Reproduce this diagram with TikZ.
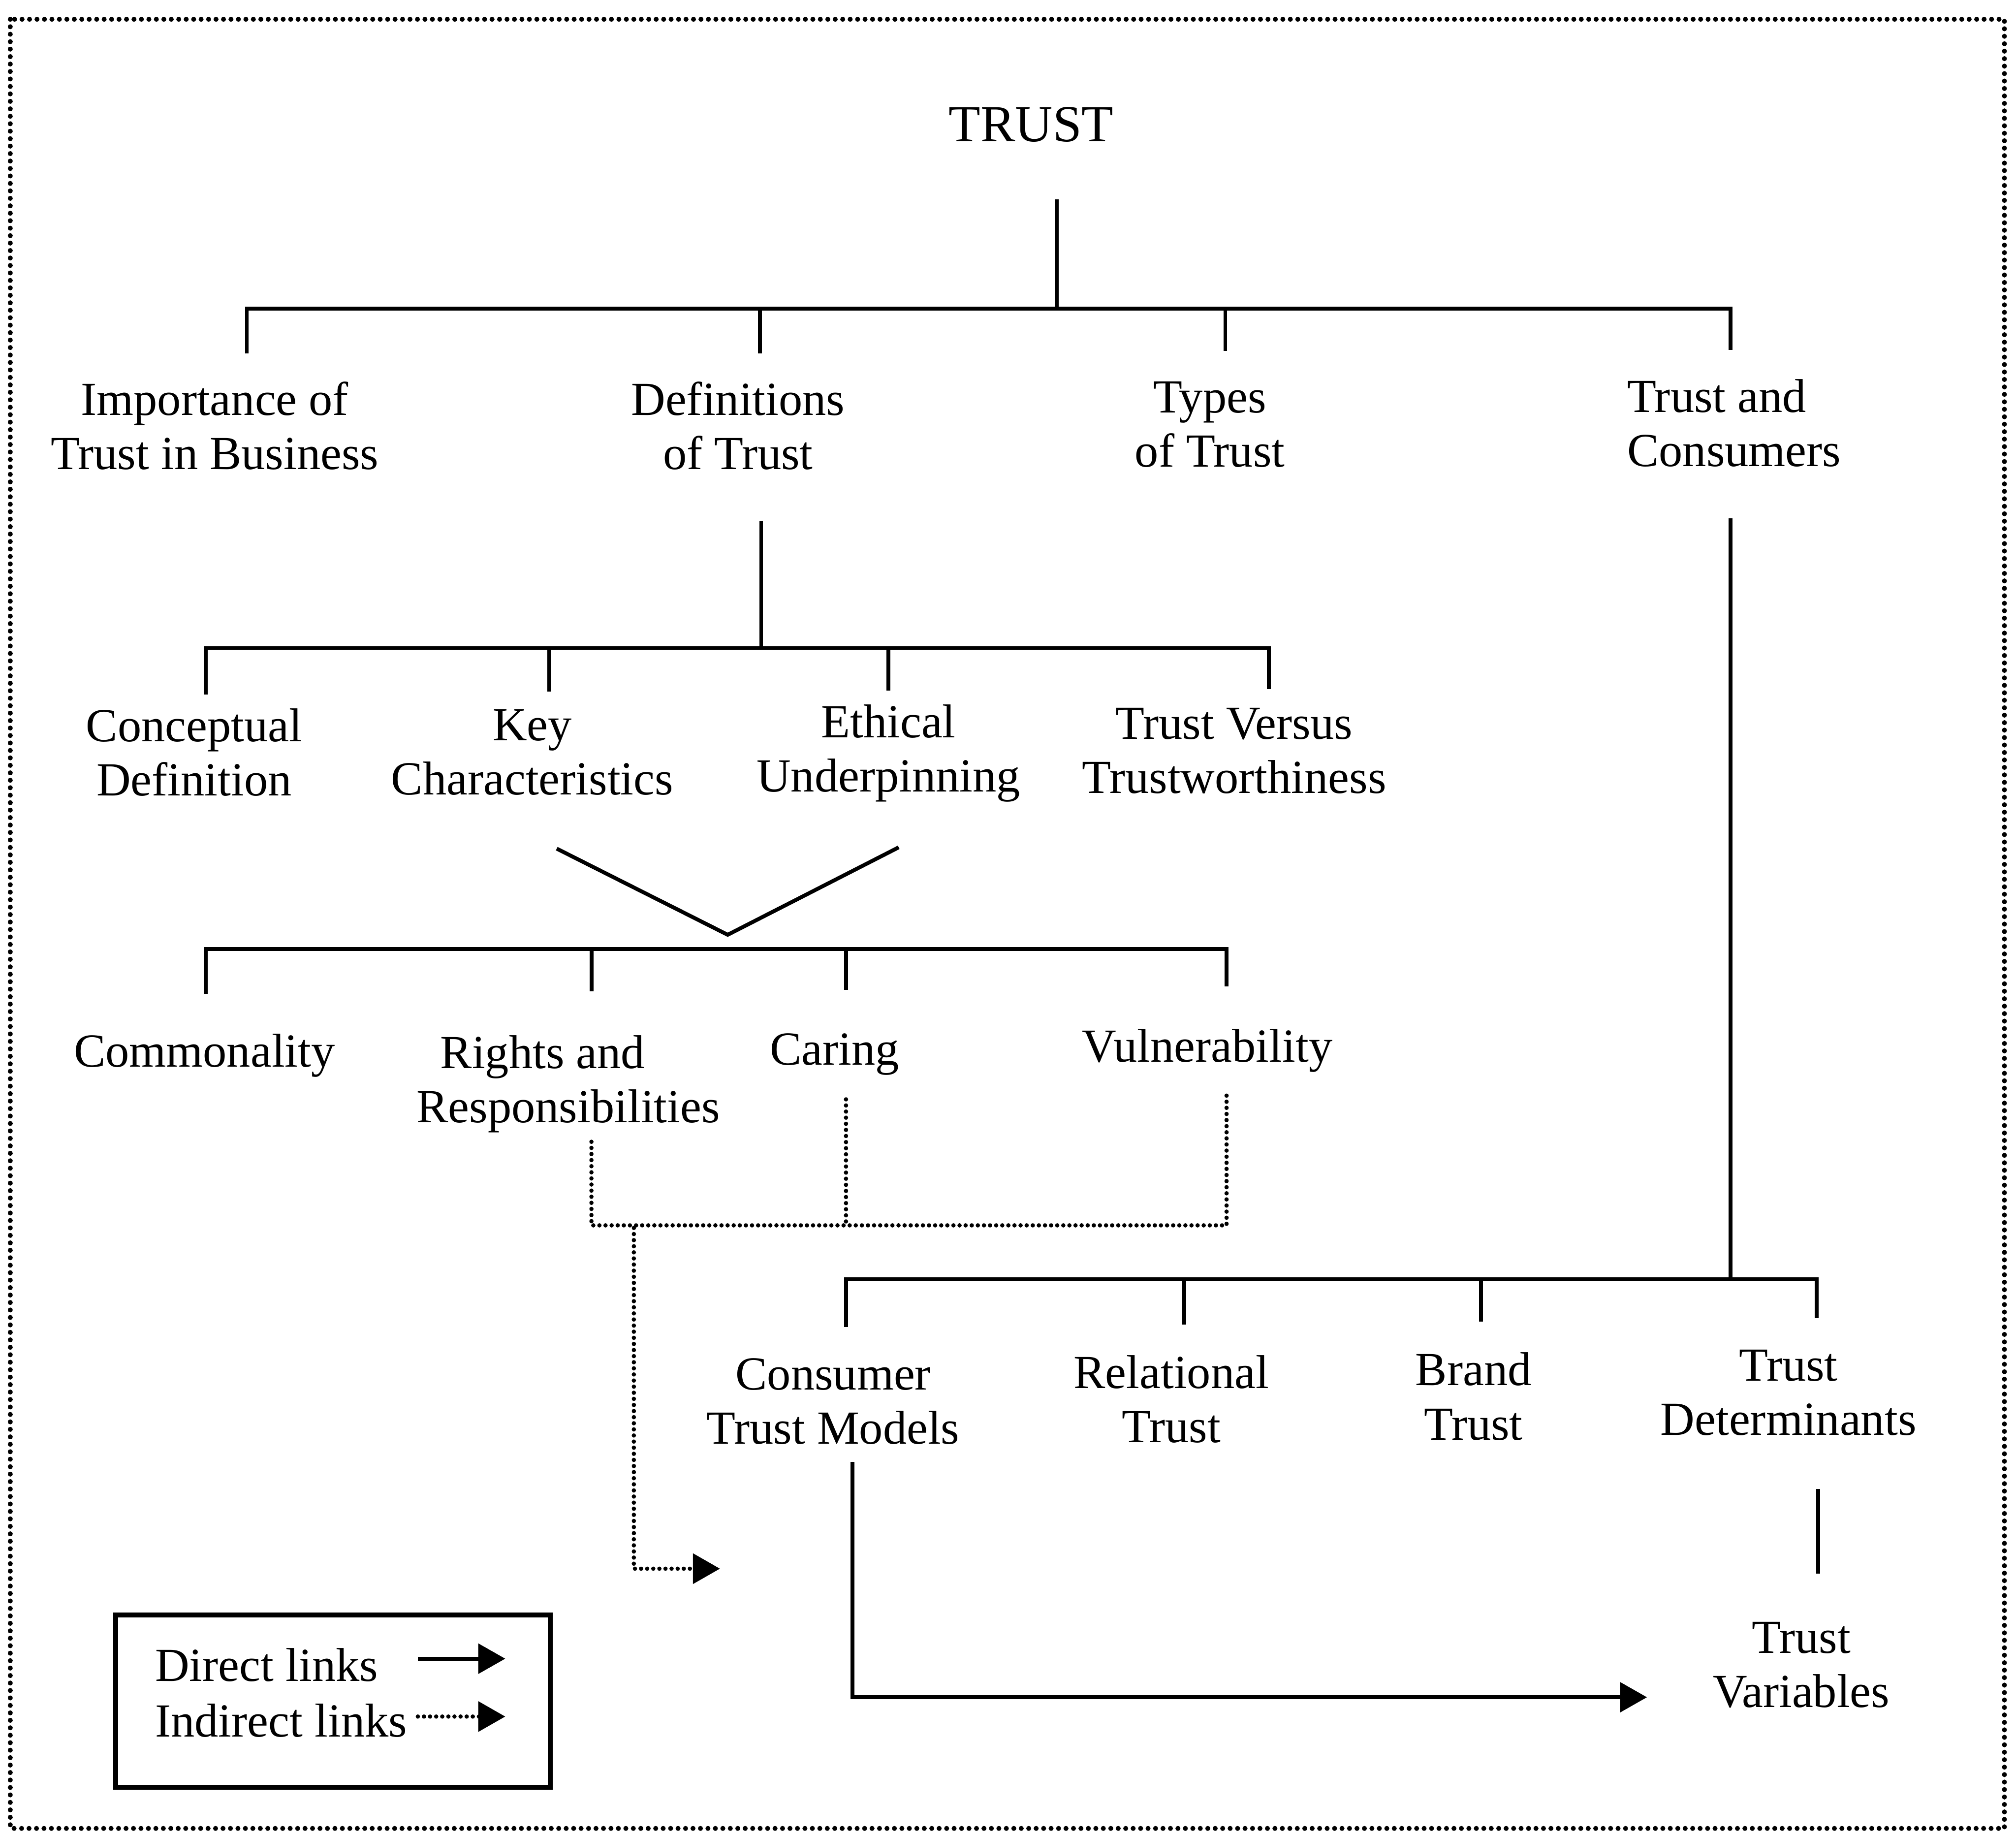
\documentclass[tikz,border=0pt]{standalone}
\usepackage{fontspec}
\setmainfont{Liberation Serif}
\usetikzlibrary{arrows.meta}
\begin{document}
\begin{tikzpicture}[x=0.01cm,y=-0.01cm,
 lbl/.style={align=center,font=\fontsize{10.5}{12}\selectfont,inner sep=0pt},
 conn/.style={line width=0.85pt},
 indirect/.style={line width=0.95pt,dash pattern=on 0pt off 1.35pt,line cap=round},
 tip/.style={-{Triangle[length=2.1mm,width=2.3mm]}},
 frame/.style={line width=1.1pt,dash pattern=on 0pt off 1.65pt,line cap=round}]
\useasboundingbox (0,0) rectangle (1568,1427);
\draw[frame] (8,15) rectangle (1559,1422);

% nodes
\node[lbl,font=\fontsize{11.5}{13}\selectfont] (trust) at (802,97) {TRUST};
\node[lbl] (imp) at (167,331) {Importance of\\Trust in Business};
\node[lbl] (def) at (574,331) {Definitions\\of Trust};
\node[lbl] (types) at (941,330) {Types\\of Trust};
\node[lbl,align=left,anchor=west] (cons) at (1265,329) {Trust and\\Consumers};
\node[lbl] (concept) at (151,585) {Conceptual\\Definition};
\node[lbl] (key) at (414,585) {Key\\Characteristics};
\node[lbl] (eth) at (691,586) {Ethical\\Underpinning};
\node[lbl] (tvt) at (960,584) {Trust Versus\\Trustworthiness};
\node[lbl] (comm) at (159,821) {Commonality};
\node[lbl] (rights) at (442,843) {Rights and\hspace*{0.4cm}\\Responsibilities};
\node[lbl] (caring) at (649,820) {Caring};
\node[lbl] (vuln) at (939,817) {Vulnerability};
\node[lbl] (ctm) at (648,1090) {Consumer\\Trust Models};
\node[lbl] (rel) at (911,1088) {Relational\\Trust};
\node[lbl] (brand) at (1146,1086) {Brand\\Trust};
\node[lbl] (tdet) at (1391,1083) {Trust\\Determinants};
\node[lbl] (tvar) at (1401,1295) {Trust\\Variables};

% legend
\draw[line width=1.1pt] (90,1256) rectangle (428,1390);
\node[lbl,anchor=west] (dl) at (120,1295) {Direct links};
\node[lbl,anchor=west] (il) at (120,1338) {Indirect links};
\coordinate (dla) at (325,1290);
\coordinate (dlb) at (393,1290);
\coordinate (ila) at (325,1335);
\coordinate (ilb) at (393,1335);
\draw[conn,tip] (dla) -- (dlb);
\draw[indirect,tip] (ila) -- (ilb);

% level 1
\draw[conn] (822,155) -- (822,240);
\draw[conn] (192,275) -- (192,240) -- (1346,240) -- (1346,272);
\draw[conn] (591,240) -- (591,275);
\draw[conn] (953,240) -- (953,273);

% definitions
\draw[conn] (592,405) -- (592,504);
\draw[conn] (160,540) -- (160,504) -- (987,504) -- (987,536);
\draw[conn] (427,504) -- (427,538);
\draw[conn] (691,504) -- (691,537);

% V
\draw[conn] (433,660) -- (566,727) -- (699,659);
\draw[conn] (160,773) -- (160,738) -- (954,738) -- (954,767);
\draw[conn] (460,738) -- (460,771);
\draw[conn] (658,738) -- (658,770);

% indirect
\draw[indirect] (460,888) -- (460,953) -- (954,953) -- (954,852);
\draw[indirect] (658,855) -- (658,953);
\draw[indirect,tip] (493,955) -- (493,1220) -- (560,1220);

% consumers
\draw[conn] (1346,403) -- (1346,995);
\draw[conn] (658,1032) -- (658,995) -- (1413,995) -- (1413,1025);
\draw[conn] (921,995) -- (921,1030);
\draw[conn] (1152,995) -- (1152,1028);
\draw[conn,tip] (663,1137) -- (663,1320) -- (1281,1320);
\draw[conn] (1414,1158) -- (1414,1224);
\end{tikzpicture}
\end{document}
